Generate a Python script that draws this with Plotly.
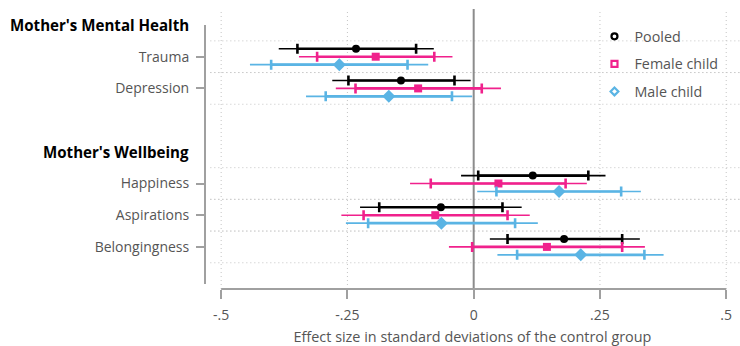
import plotly.graph_objects as go

# ---- data ----
categories = ["Trauma", "Depression", "Happiness", "Aspirations", "Belongingness"]
group_labels = ["Mother's Mental Health", "Mother's Wellbeing"]
series_names = ["Pooled", "Female child", "Male child"]

pooled_est = [-0.233, -0.144, 0.117, -0.065, 0.179]
pooled_lo90 = [-0.349, -0.248, 0.009, -0.187, 0.067]
pooled_hi90 = [-0.114, -0.038, 0.227, 0.057, 0.294]
pooled_lo95 = [-0.386, -0.280, -0.025, -0.225, 0.032]
pooled_hi95 = [-0.079, -0.006, 0.261, 0.095, 0.329]

female_est = [-0.194, -0.110, 0.049, -0.076, 0.145]
female_lo90 = [-0.310, -0.234, -0.085, -0.218, -0.003]
female_hi90 = [-0.078, 0.016, 0.182, 0.067, 0.294]
female_lo95 = [-0.346, -0.273, -0.126, -0.262, -0.049]
female_hi95 = [-0.042, 0.054, 0.224, 0.111, 0.339]

male_est = [-0.266, -0.168, 0.169, -0.064, 0.212]
male_lo90 = [-0.401, -0.293, 0.045, -0.209, 0.086]
male_hi90 = [-0.131, -0.043, 0.292, 0.082, 0.338]
male_lo95 = [-0.443, -0.332, 0.007, -0.253, 0.047]
male_hi95 = [-0.090, -0.003, 0.331, 0.127, 0.376]

x_tickvals = [-0.5, -0.25, 0, 0.25, 0.5]
x_ticktext = ["-.5", "-.25", "0", ".25", ".5"]

# ---- layout helpers ----
cat_rows = [1, 2, 5, 6, 7]
group_rows = [0, 4]
offsets = [-0.25, 0.0, 0.25]
colors = ["#000000", "#F0218C", "#5AB4E4"]
symbols = ["circle", "square", "diamond"]
msizes = [8, 8, 10]
legend_symbols = ["circle-open", "square-open", "diamond-open"]

FONT = "Open Sans"
GRID = "#c4c4c4"
AXIS = "#a0a0a0"

series = [
    (pooled_est, pooled_lo90, pooled_hi90, pooled_lo95, pooled_hi95),
    (female_est, female_lo90, female_hi90, female_lo95, female_hi95),
    (male_est, male_lo90, male_hi90, male_lo95, male_hi95),
]

fig = go.Figure()

for k, (est, lo90, hi90, lo95, hi95) in enumerate(series):
    ys = [r + offsets[k] for r in cat_rows]
    c = colors[k]
    # 95% CI thin line
    fig.add_trace(go.Scatter(
        x=est, y=ys, mode="markers", marker=dict(size=1, color="rgba(0,0,0,0)"),
        error_x=dict(type="data", symmetric=False,
                     array=[h - e for h, e in zip(hi95, est)],
                     arrayminus=[e - l for e, l in zip(est, lo95)],
                     color=c, thickness=1.6, width=0),
        showlegend=False, hoverinfo="skip"))
    # 90% CI thick line with caps
    fig.add_trace(go.Scatter(
        x=est, y=ys, mode="markers",
        marker=dict(symbol=symbols[k], size=msizes[k], color=c, line=dict(width=0)),
        error_x=dict(type="data", symmetric=False,
                     array=[h - e for h, e in zip(hi90, est)],
                     arrayminus=[e - l for e, l in zip(est, lo90)],
                     color=c, thickness=2.6, width=5),
        showlegend=False, name=series_names[k]))
    # legend entry
    fig.add_trace(go.Scatter(
        x=[None], y=[None], mode="markers", name=series_names[k],
        marker=dict(symbol=legend_symbols[k], size=6, color=c, line=dict(width=2.2, color=c)),
        legendgroup=series_names[k]))

shapes = []
# horizontal dotted gridlines around each category
for r in cat_rows:
    for yy in (r - 0.5, r + 0.5):
        shapes.append(dict(type="line", xref="paper", x0=0.01, x1=1, yref="y", y0=yy, y1=yy,
                           line=dict(color=GRID, width=1, dash="1px,3px"), layer="below"))
# vertical dotted gridlines
for v in x_tickvals:
    if v == 0:
        continue
    shapes.append(dict(type="line", xref="x", x0=v, x1=v, yref="paper", y0=0, y1=1,
                       line=dict(color=GRID, width=1, dash="1px,3px"), layer="below"))
# zero line
shapes.append(dict(type="line", xref="x", x0=0, x1=0, yref="paper", y0=0, y1=1,
                   line=dict(color="#8c8c8c", width=2), layer="below"))
# y axis line
shapes.append(dict(type="line", xref="paper", x0=0, x1=0, yref="y", y0=0, y1=8.17,
                   line=dict(color=AXIS, width=2)))
# x axis line
shapes.append(dict(type="line", xref="x", x0=-0.5, x1=0.5, yref="paper", y0=0, y1=0,
                   line=dict(color=AXIS, width=2)))

annotations = []
for g, r in zip(group_labels, group_rows):
    annotations.append(dict(text="<b>%s</b>" % g, xref="paper", x=-0.0262, xanchor="right",
                            yref="y", y=r, yanchor="middle", showarrow=False,
                            font=dict(family=FONT, size=15.1, color="#000000")))

fig.update_layout(
    width=740, height=346,
    margin=dict(l=205, r=0, t=9, b=57, autoexpand=False),
    paper_bgcolor="white", plot_bgcolor="white",
    font=dict(family=FONT, size=14, color="#555555"),
    shapes=shapes, annotations=annotations,
    xaxis=dict(range=[-0.532, 0.5273], tickvals=x_tickvals, ticktext=x_ticktext,
               ticks="outside", ticklen=9, tickwidth=2, tickcolor=AXIS,
               showgrid=False, zeroline=False, showline=False, automargin=False,
               ticklabelstandoff=4,
               tickfont=dict(family=FONT, size=14, color="#555555"),
               title=dict(text="Effect size in standard deviations of the control group",
                          font=dict(family=FONT, size=14.4, color="#555555"), standoff=12)),
    yaxis=dict(range=[8.328, -0.505], tickvals=cat_rows, ticktext=categories,
               ticks="outside", ticklen=8, tickwidth=2, tickcolor=AXIS,
               showgrid=False, zeroline=False, showline=False, ticklabelstandoff=4,
               automargin=False,
               tickfont=dict(family=FONT, size=14, color="#555555")),
    legend=dict(x=0.728, xanchor="left", y=0.959, yanchor="top",
                bgcolor="rgba(0,0,0,0)", font=dict(family=FONT, size=14.3, color="#555555"),
                tracegroupgap=6, itemwidth=30),
    showlegend=True,
)

fig.write_html("out.html", config={"displayModeBar": False},
               post_script="document.body.style.margin='0';")
